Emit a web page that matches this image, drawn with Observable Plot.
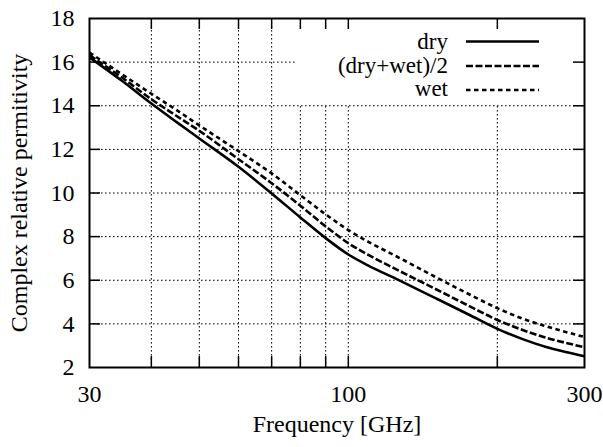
<!DOCTYPE html>
<html><head><meta charset="utf-8">
<script src="https://cdn.jsdelivr.net/npm/d3@7"></script>
<script src="https://cdn.jsdelivr.net/npm/@observablehq/plot@0.6"></script>
<style>
body{margin:0;background:#fff;}
#chart{width:603px;height:447px;}
#chart svg, #chart svg text { font-family: "Liberation Serif", "Tinos", "Times New Roman", "Times", "Nimbus Roman", "FreeSerif", "Noto Serif", "DejaVu Serif", serif !important; }
</style></head><body><div id="chart"></div>
<script>
// Frequencies [GHz] and complex relative permittivity
const freqs = [30, 35, 40, 45, 50, 60, 70, 80, 90, 100, 110, 125, 150, 175, 200, 225, 250, 275, 300];
const dry   = [16.22, 15.12, 14.1, 13.25, 12.5, 11.2, 9.98, 8.88, 7.93, 7.18, 6.66, 6.06, 5.18, 4.43, 3.77, 3.3, 2.95, 2.71, 2.52];
const mid   = [16.32, 15.27, 14.3, 13.53, 12.85, 11.55, 10.45, 9.42, 8.47, 7.7, 7.15, 6.5, 5.6, 4.83, 4.18, 3.72, 3.38, 3.13, 2.93];
const wet   = [16.44, 15.42, 14.55, 13.8, 13.1, 11.92, 10.9, 9.9, 9.02, 8.3, 7.75, 7.1, 6.15, 5.37, 4.72, 4.24, 3.9, 3.63, 3.4];

const seriesNames = ["dry", "(dry+wet)/2", "wet"];
const seriesDash = ["none", "7,2.5", "4.5,3.5"];

const xTickLabels = [30, 100, 300];
const xMinor = [40, 50, 60, 70, 80, 90, 100, 200];
const yTicks = [2, 4, 6, 8, 10, 12, 14, 16, 18];
const yGrid = [4, 6, 8, 10, 12, 14, 16];

const xLabel = "Frequency [GHz]";
const yLabel = "Complex relative permitivity";

const W = 603, H = 447, mL = 89, mR = 19, mT = 18, mB = 80;
const innerW = W - mL - mR, innerH = H - mT - mB;
const tickLen = 11;
const FONT = "'Liberation Serif', Tinos, 'Times New Roman', Times, 'Nimbus Roman', FreeSerif, 'Noto Serif', 'DejaVu Serif', serif";
const FS = 24;
const LFS = 23;

const rows = freqs.map((f, i) => ({f, dry: dry[i], mid: mid[i], wet: wet[i]}));
const keys = ["dry", "mid", "wet"];

const lineStyle = {stroke: "#000", strokeWidth: 2.6, strokeLinecap: "butt", strokeLinejoin: "round", curve: "monotone-x"};

const chart = Plot.plot({
  width: W, height: H,
  marginLeft: mL, marginRight: mR, marginTop: mT, marginBottom: mB,
  style: {fontFamily: FONT, fontSize: FS + "px", color: "#000", background: "#fff", overflow: "visible"},
  x: {type: "log", domain: [30, 300], axis: null},
  y: {domain: [2, 18], axis: null},
  marks: [
    Plot.ruleX(xMinor, {x: d => d, stroke: "#000", strokeWidth: 1, strokeDasharray: "1.6,2.4"}),
    Plot.ruleY(yGrid, {y: d => d, stroke: "#000", strokeWidth: 1, strokeDasharray: "1.6,2.4"}),
    ...keys.map((k, i) => Plot.line(rows, {x: "f", y: k, ...lineStyle, strokeDasharray: seriesDash[i]})),
    Plot.tickX(xMinor, {x: d => d, insetTop: innerH - tickLen, stroke: "#000", strokeWidth: 1.5}),
    Plot.tickX(xMinor, {x: d => d, insetBottom: innerH - tickLen, stroke: "#000", strokeWidth: 1.5}),
    Plot.tickY(yGrid, {y: d => d, insetRight: innerW - tickLen, stroke: "#000", strokeWidth: 1.5}),
    Plot.tickY(yGrid, {y: d => d, insetLeft: innerW - tickLen, stroke: "#000", strokeWidth: 1.5}),
    Plot.frame({stroke: "#000", strokeWidth: 2}),
    Plot.axisX({ticks: xTickLabels, tickFormat: d => String(d), tickSize: 0, tickPadding: 17, label: null, fontSize: FS}),
    Plot.axisY({ticks: yTicks, tickFormat: d => String(d), tickSize: 0, tickPadding: 15, label: null, fontSize: FS}),
    Plot.text([xLabel], {text: d => d, frameAnchor: "bottom", dy: 64, fontSize: FS}),
    Plot.text([yLabel], {text: d => d, frameAnchor: "left", rotate: -90, dx: -70, textAnchor: "middle", fontSize: FS})
  ]
});

document.getElementById("chart").appendChild(chart);

// In-plot legend box (white background masks the grid, as in the original)
const firstLine = chart.querySelector('g[aria-label="line"]');
const leg = d3.select(chart.insertBefore(document.createElementNS("http://www.w3.org/2000/svg", "g"), firstLine));
leg.append("rect").attr("x", 297).attr("y", mT + 1).attr("width", W - mR - 297 - 1).attr("height", 85).attr("fill", "#fff");
const legLineY = [41.5, 66, 90];
const legTextY = [49, 73, 96];
seriesNames.forEach((name, i) => {
  leg.append("text").attr("x", 448).attr("y", legTextY[i]).attr("text-anchor", "end")
    .attr("font-family", FONT).attr("font-size", LFS).attr("fill", "#000").text(name);
  leg.append("line").attr("x1", 466).attr("x2", 539).attr("y1", legLineY[i]).attr("y2", legLineY[i])
    .attr("stroke", "#000").attr("stroke-width", 2.6).attr("stroke-dasharray", seriesDash[i]);
});
</script></body></html>
